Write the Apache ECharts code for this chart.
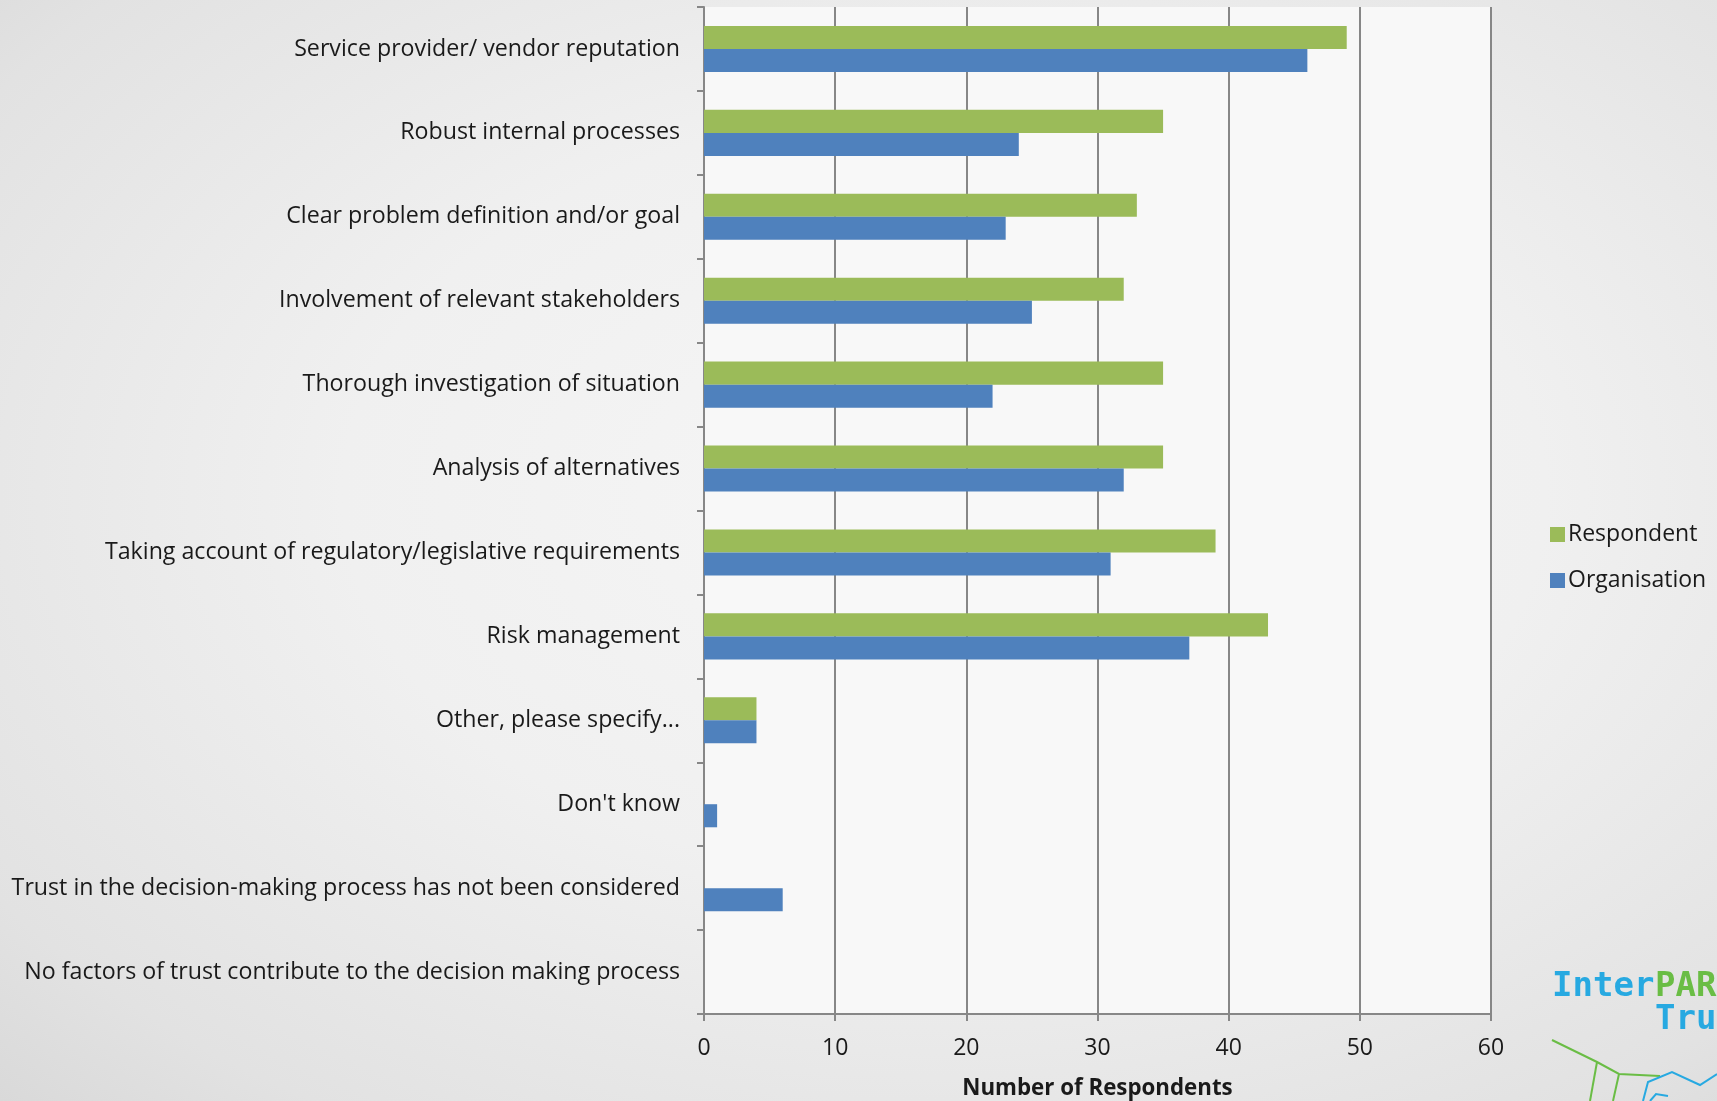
<!DOCTYPE html>
<html>
<head>
<meta charset="utf-8">
<script src="https://cdn.jsdelivr.net/npm/echarts@6/dist/echarts.min.js"></script>
<style>
  html, body { margin: 0; padding: 0; }
  body {
    width: 1717px; height: 1101px; overflow: hidden;
    background: radial-gradient(ellipse at 55% 45%, #f6f6f6 0%, #f0f0f0 45%, #e2e2e2 85%, #d9d9d9 100%);
  }
  #chart { width: 1717px; height: 1101px; }
</style>
</head>
<body>
<div id="chart"></div>
<script>
const categories = [
  "Service provider/ vendor reputation",
  "Robust internal processes",
  "Clear problem definition and/or goal",
  "Involvement of relevant stakeholders",
  "Thorough investigation of situation",
  "Analysis of alternatives",
  "Taking account of regulatory/legislative requirements",
  "Risk management",
  "Other, please specify...",
  "Don't know",
  "Trust in the decision-making process has not been considered",
  "No factors of trust contribute to the decision making process"
];
const respondent   = [49, 35, 33, 32, 35, 35, 39, 43, 4, 0, 0, 0];
const organisation = [46, 24, 23, 25, 22, 32, 31, 37, 4, 1, 6, 0];
const xTicks = { min: 0, max: 60, interval: 10 };
const axisName = "Number of Respondents";

const FONT = "Open Sans";
const chart = echarts.init(document.getElementById('chart'), null, { renderer: 'canvas' });
chart.setOption({
  backgroundColor: 'transparent',
  animation: false,
  textStyle: { fontFamily: FONT, color: '#1a1a1a' },
  grid: {
    left: 704, right: 226, top: 7, bottom: 87,
    outerBoundsMode: 'none', containLabel: false,
    show: true, backgroundColor: '#f8f8f8', borderWidth: 0
  },
  legend: {
    orient: 'vertical',
    left: 1545, top: 518,
    itemWidth: 15, itemHeight: 15, itemGap: 23,
    icon: 'rect',
    textStyle: { fontFamily: FONT, fontSize: 23, color: '#1a1a1a', padding: [0, 0, 0, -2] },
    data: ['Respondent', 'Organisation']
  },
  xAxis: {
    type: 'value',
    min: xTicks.min, max: xTicks.max, interval: xTicks.interval,
    name: axisName,
    nameLocation: 'middle',
    nameGap: 64,
    nameTextStyle: { fontFamily: FONT, fontWeight: 'bold', fontSize: 22.3, color: '#1a1a1a' },
    axisLine: { show: true, lineStyle: { color: '#878787', width: 2 } },
    axisTick: { show: true, length: 7, lineStyle: { color: '#878787', width: 2 } },
    axisLabel: { fontFamily: FONT, fontSize: 23, color: '#1a1a1a', margin: 23 },
    splitLine: { show: true, lineStyle: { color: '#878787', width: 2 } }
  },
  yAxis: {
    type: 'category',
    inverse: true,
    data: categories,
    axisLine: { show: true, lineStyle: { color: '#878787', width: 2 } },
    axisTick: { show: true, length: 7, lineStyle: { color: '#878787', width: 2 } },
    axisLabel: { fontFamily: FONT, fontSize: 23.2, color: '#1a1a1a', margin: 24, padding: [7, 0, 0, 0] },
    splitLine: { show: false }
  },
  series: [
    {
      name: 'Respondent', type: 'bar', data: respondent,
      barGap: '0%', barCategoryGap: '45%',
      itemStyle: { color: '#9bbb59' }
    },
    {
      name: 'Organisation', type: 'bar', data: organisation,
      barGap: '0%', barCategoryGap: '45%',
      itemStyle: { color: '#4f81bd' }
    }
  ],
  graphic: [
    { type: 'text', left: 1552, top: 970,
      style: { text: 'Inter', fill: '#27a9e1', font: 'bold 34px "DejaVu Sans Mono"' } },
    { type: 'text', left: 1655, top: 970,
      style: { text: 'PARES', fill: '#6abd45', font: 'bold 34px "DejaVu Sans Mono"' } },
    { type: 'text', left: 1655, top: 1003,
      style: { text: 'Trust', fill: '#27a9e1', font: 'bold 34px "DejaVu Sans Mono"' } },
    { type: 'polyline', shape: { points: [[1552,1040],[1597,1062],[1619,1074],[1660,1076]] },
      style: { stroke: '#6abd45', lineWidth: 2, fill: null } },
    { type: 'polyline', shape: { points: [[1597,1062],[1590,1101]] },
      style: { stroke: '#6abd45', lineWidth: 2, fill: null } },
    { type: 'polyline', shape: { points: [[1619,1074],[1613,1101]] },
      style: { stroke: '#6abd45', lineWidth: 2, fill: null } },
    { type: 'polyline', shape: { points: [[1643,1101],[1648,1082],[1672,1072],[1700,1085],[1717,1074]] },
      style: { stroke: '#27a9e1', lineWidth: 2, fill: null } },
    { type: 'polyline', shape: { points: [[1650,1101],[1656,1094],[1668,1096]] },
      style: { stroke: '#27a9e1', lineWidth: 2, fill: null } }
  ]
});
</script>
</body>
</html>
